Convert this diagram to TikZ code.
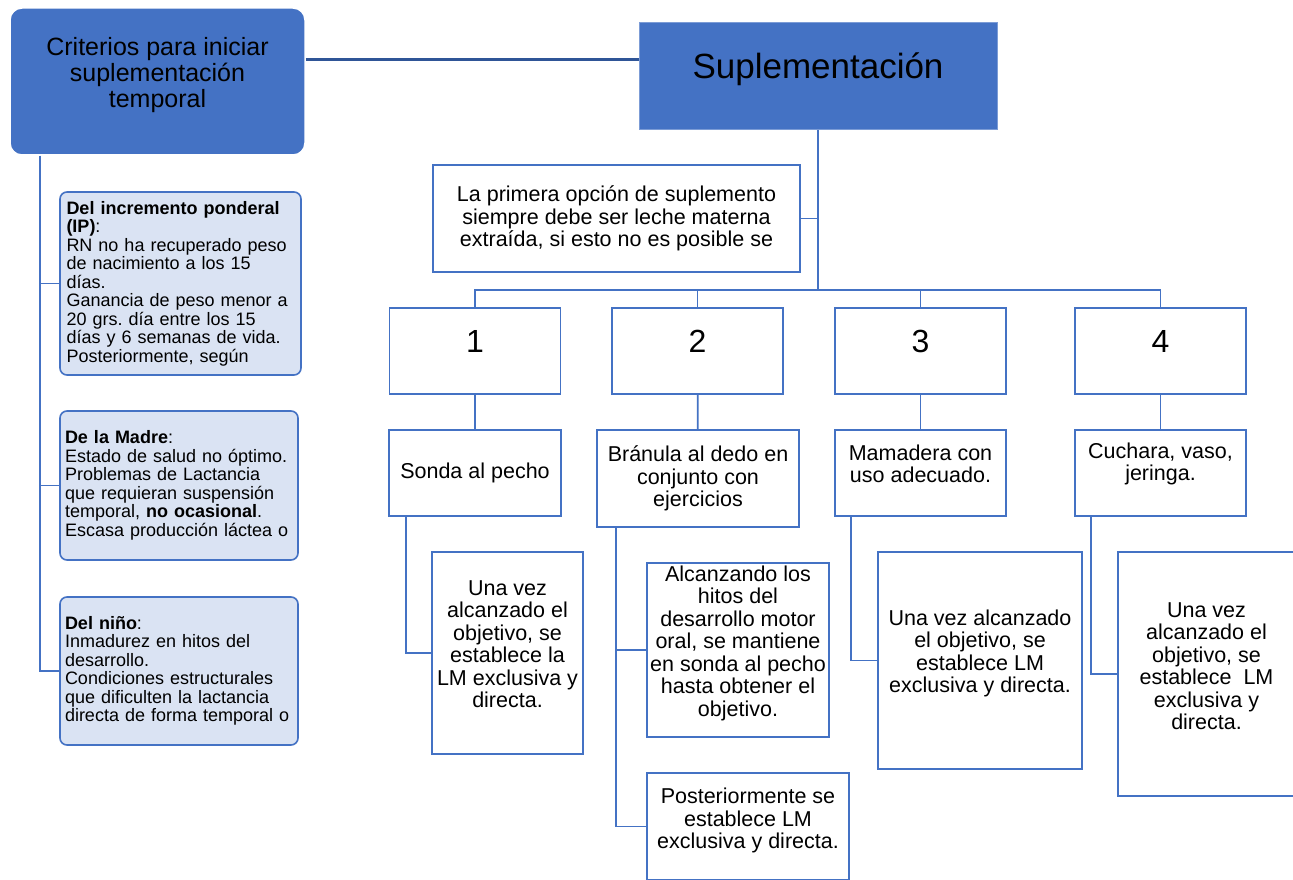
\documentclass[tikz,border=0pt]{standalone}
\usepackage{fontspec}
\setmainfont{Liberation Sans}
\frenchspacing
\usetikzlibrary{positioning}
\definecolor{boxblue}{HTML}{4472C4}
\definecolor{lightblue}{HTML}{DAE3F3}
\definecolor{darkline}{HTML}{2F5597}
\tikzset{
    headbox/.style={fill=boxblue, draw=boxblue!70!white, line width=1pt},
    critbox/.style={rounded corners=7pt, draw=boxblue, fill=lightblue, line width=1.6pt,
        text width=228pt, align=left, inner sep=0pt, font=\fontsize{18}{18.5}\selectfont},
    stepbox/.style={draw=boxblue, line width=1.8pt, fill=white, align=center, inner sep=2pt,
        font=\fontsize{21.5}{22.5}\selectfont},
    numbox/.style={stepbox, minimum width=171pt, minimum height=86pt},
    txt/.style={align=center, inner sep=0pt, font=\fontsize{21.5}{22.5}\selectfont},
    link/.style={draw=boxblue, line width=1.8pt},
    toplink/.style={draw=darkline, line width=3pt}
}
\begin{document}
\begin{tikzpicture}[x=1pt,y=-1pt]
	\clip (0,0) rectangle (1293,880);
	\fill[white] (0,0) rectangle (1293,880);

	% heads
	\node[headbox, rounded corners=12pt, draw=white, line width=1.5pt, minimum width=295pt, minimum height=147pt] (crit) at (157.5,81.5) {};
	\node[txt, font=\fontsize{25}{26}\selectfont] (critt) at ([yshift=6pt]crit.center)
		{Criterios para iniciar\\suplementación\\temporal};
	\node[headbox, minimum width=358pt, minimum height=107pt] (sup) at (818,76.5) {};
	\node[txt, font=\fontsize{35}{40}\selectfont] (supt) at ([yshift=7pt]sup.center) {Suplementación};

	% criteria
	\node[critbox, minimum width=241pt, minimum height=183pt] (ponderal) at (180.5,283.5)
		{\textbf{Del incremento ponderal}\\\textbf{(IP)}:\\RN no ha recuperado peso\\de nacimiento a los 15\\días.\\Ganancia de peso menor a\\20 grs. día entre los 15\\días y 6 semanas de vida.\\Posteriormente, según};
	\node[critbox, minimum width=238pt, minimum height=149pt] (madre) at (179,485.5)
		{\textbf{De la Madre}:\\Estado de salud no óptimo.\\Problemas de Lactancia\\que requieran suspensión\\temporal, \textbf{no ocasional}.\\Escasa producción láctea o};
	\node[critbox, minimum width=238pt, minimum height=148pt] (nino) at (179,671)
		{\textbf{Del niño}:\\Inmadurez en hitos del\\desarrollo.\\Condiciones estructurales\\que dificulten la lactancia\\directa de forma temporal o};

	% supplement tree
	\node[stepbox, minimum width=367pt, minimum height=107pt] (primera) at (616.5,218.5)
		{La primera opción de suplemento\\siempre debe ser leche materna\\extraída, si esto no es posible se};

	\foreach \i/\x in {1/475,2/697.5,3/920.5,4/1160.5} {
		\node[numbox] (n\i) at (\x,351) {};
		\node[txt, font=\fontsize{32}{36}\selectfont] (n\i t) at ([yshift=10pt]n\i.center) {\i};
	}

	\node[stepbox, minimum width=172pt, minimum height=86pt] (sonda) at (475,473) {Sonda al pecho};
	\node[stepbox, minimum width=202pt, minimum height=97pt] (branula) at (698,478.5)
		{Bránula al dedo en\\conjunto con\\ejercicios};
	\node[stepbox, minimum width=171pt, minimum height=86pt] (mamadera) at (920.5,473) {};
	\node[txt] (mamaderat) at ([yshift=9pt]mamadera.center) {Mamadera con\\uso adecuado.};
	\node[stepbox, minimum width=171pt, minimum height=86pt] (cuchara) at (1160.5,473) {};
	\node[txt] (cucharat) at ([yshift=9pt]cuchara.center) {Cuchara, vaso,\\jeringa.};

	\node[stepbox, minimum width=151pt, minimum height=202pt] (sondaobj) at (507.5,653) {};
	\node[txt] (sondaobjt) at ([yshift=9pt]sondaobj.center)
		{Una vez\\alcanzado el\\objetivo, se\\establece la\\LM exclusiva y\\directa.};
	\node[stepbox, minimum width=182pt, minimum height=174pt] (alcanzando) at (738,650) {};
	\node[txt] (alcanzandot) at ([yshift=7pt]alcanzando.center)
		{Alcanzando los\\hitos del\\desarrollo motor\\oral, se mantiene\\en sonda al pecho\\hasta obtener el\\objetivo.};
	\node[stepbox, minimum width=202pt, minimum height=107pt] (posterior) at (748,826.5) {};
	\node[txt] (posteriort) at ([yshift=6pt]posterior.center)
		{Posteriormente se\\establece LM\\exclusiva y directa.};
	\node[stepbox, minimum width=204pt, minimum height=217pt] (mamaobj) at (980,660.5) {};
	\node[txt] (mamaobjt) at ([yshift=7pt]mamaobj.center)
		{Una vez alcanzado\\el objetivo, se\\establece LM\\exclusiva y directa.};
	\node[stepbox, minimum width=177pt, minimum height=244pt] (cuchobj) at (1206.5,674) {};
	\node[txt] (cuchobjt) at ([yshift=8pt]cuchobj.center)
		{Una vez\\alcanzado el\\objetivo, se\\establece\ \ LM\\exclusiva y\\directa.};

	% connectors
	\coordinate (topy) at (0,60);
	\coordinate (spine) at (40,0);
	\coordinate (bus) at (0,290);
	\draw[toplink] (crit.east |- topy) -- (sup.west |- topy);

	\draw[link] (spine |- crit.south) |- (nino.west);
	\draw[link] (ponderal.west) -- (spine |- ponderal.west);
	\draw[link] (madre.west) -- (spine |- madre.west);

	\draw[link] (sup.south) -- (sup.south |- bus);
	\draw[link] (primera.east) -- (sup.south |- primera.east);
	\draw[link] (n1.north) |- (n4.north |- bus) -- (n4.north);
	\foreach \n in {n2,n3}
		\draw[link] (\n.north) -- (\n.north |- bus);

	\draw[link] (n1) -- (sonda);
	\draw[link] (n2) -- (branula);
	\draw[link] (n3) -- (mamadera);
	\draw[link] (n4) -- (cuchara);

	\draw[link] ([xshift=18pt]sonda.south west) |- (sondaobj.west);
	\draw[link] ([xshift=20pt]branula.south west) |- (posterior.west);
	\draw[link] (alcanzando.west) -- ++(-30,0);
	\draw[link] ([xshift=17pt]mamadera.south west) |- (mamaobj.west);
	\draw[link] ([xshift=17pt]cuchara.south west) |- (cuchobj.west);
\end{tikzpicture}
\end{document}
